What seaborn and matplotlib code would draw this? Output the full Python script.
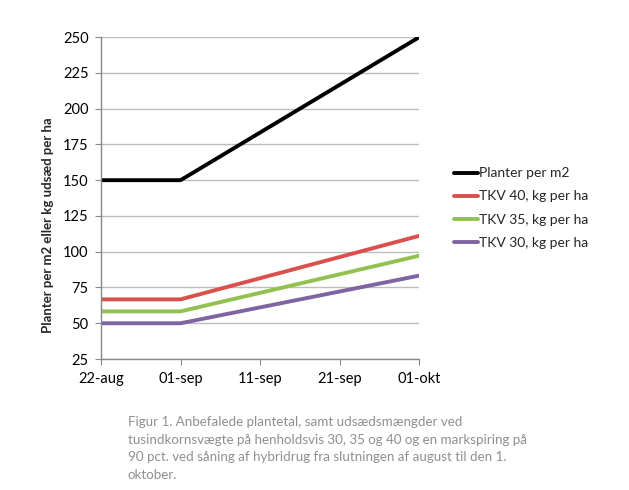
import seaborn as sns
import matplotlib.pyplot as plt
import pandas as pd

# data
dates = ["2023-08-22", "2023-09-01", "2023-10-01"]
planter = [150, 150, 250]
tkv40 = [66.7, 66.7, 111.1]
tkv35 = [58.3, 58.3, 97.2]
tkv30 = [50, 50, 83.3]

series_names = ["Planter per m2", "TKV 40, kg per ha", "TKV 35, kg per ha", "TKV 30, kg per ha"]
colors = ["#000000", "#d9504c", "#92c150", "#8064a2"]
x_ticks = ["2023-08-22", "2023-09-01", "2023-09-11", "2023-09-21", "2023-10-01"]
x_labels = ["22-aug", "01-sep", "11-sep", "21-sep", "01-okt"]

sns.set_style("white")
plt.rcParams['font.family'] = ['Lato', 'DejaVu Sans']

rows = []
for name, vals in zip(series_names, [planter, tkv40, tkv35, tkv30]):
    for d, v in zip(dates, vals):
        rows.append({"dato": pd.Timestamp(d), "værdi": v, "serie": name})
df = pd.DataFrame(rows)

fig = plt.figure(figsize=(6.29, 4.9), dpi=100)
ax = fig.add_axes([0.1606, 0.2673, 0.506, 0.657])

sns.lineplot(data=df, x="dato", y="værdi", hue="serie", hue_order=series_names,
             palette=colors, linewidth=2.8, ax=ax, legend=True)

ax.set_ylim(25, 250)
ax.set_yticks(range(25, 251, 25))
ax.set_xlim(pd.Timestamp(dates[0]), pd.Timestamp(dates[-1]))
ax.set_xticks([pd.Timestamp(t) for t in x_ticks])
ax.set_xticklabels(x_labels)

ax.grid(axis="y", color="#bdbdbd", linewidth=1)
ax.grid(axis="x", visible=False)
ax.set_axisbelow(True)
for s in ["top", "right"]:
    ax.spines[s].set_visible(False)
for s in ["left", "bottom"]:
    ax.spines[s].set_color("#888888")
    ax.spines[s].set_linewidth(1)
ax.tick_params(axis="both", which="major", direction="out", length=4,
               color="#888888", labelsize=10.5, labelcolor="black", left=True, bottom=True)
ax.tick_params(axis="x", pad=5)
ax.tick_params(axis="y", pad=5)

ax.set_xlabel("")
ax.set_ylabel("Planter per m2 eller kg udsæd per ha", fontsize=9.5, fontweight="bold")
ax.yaxis.set_label_coords(-0.148, 0.416)

ax.legend(loc="center left", bbox_to_anchor=(1.07, 0.469), frameon=False, fontsize=10,
          handlelength=1.7, handletextpad=0.1, labelspacing=0.8)

fig.text(0.203, 0.085,
         "Figur 1. Anbefalede plantetal, samt udsædsmængder ved\n"
         "tusindkornsvægte på henholdsvis 30, 35 og 40 og en markspiring på\n"
         "90 pct. ved såning af hybridrug fra slutningen af august til den 1.\n"
         "oktober.",
         fontsize=9.6, color="#8f8f8f", va="center", ha="left", linespacing=1.55)

fig.savefig("out.png", dpi=100)
